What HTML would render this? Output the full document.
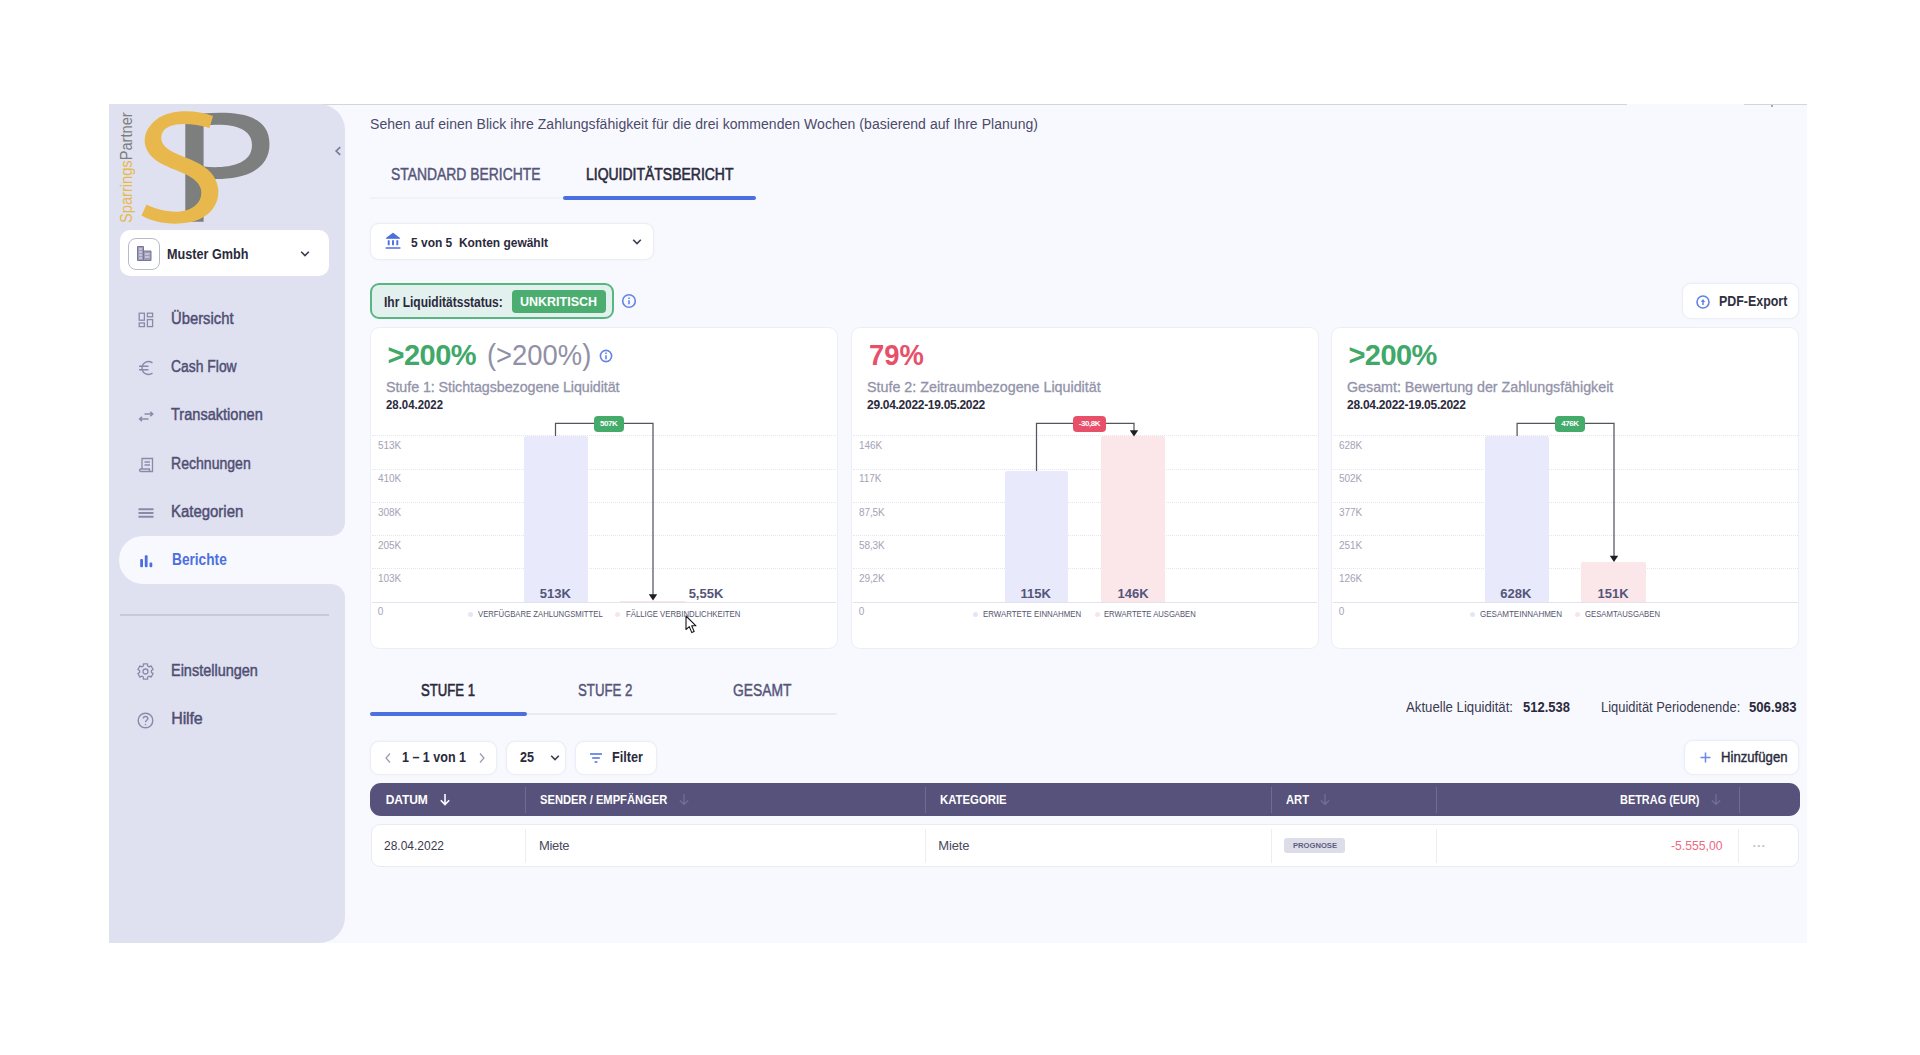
<!DOCTYPE html>
<html lang="de"><head><meta charset="utf-8"><title>Liquiditätsbericht</title>
<style>
html,body{margin:0;padding:0;background:#ffffff;}
body{width:1920px;height:1055px;position:relative;overflow:hidden;font-family:"Liberation Sans", sans-serif;}
.b{position:absolute;display:block;}
.t{position:absolute;white-space:nowrap;line-height:1;font-family:"Liberation Sans", sans-serif;}
</style></head>
<body>
<div class="b" style="left:109.00px;top:104.00px;width:1698.00px;height:838.50px;background:#f8f9fe;"></div>
<div class="b" style="left:109.00px;top:104.00px;width:1518.00px;height:1.00px;background:#d4d4da;"></div>
<div class="b" style="left:1744.00px;top:104.00px;width:63.00px;height:1.00px;background:#d4d4da;"></div>
<div class="b" style="left:1770.50px;top:105.00px;width:2.50px;height:2.00px;background:#8d8d98;border-radius:1px;"></div>
<div class="b" style="left:109.00px;top:104.00px;width:236.20px;height:432.25px;background:#dfe1f0;border-radius:0 26px 14px 0;"></div>
<div class="b" style="left:109.00px;top:530.00px;width:41.00px;height:60.00px;background:#dfe1f0;"></div>
<div class="b" style="left:109.00px;top:584.00px;width:236.20px;height:358.50px;background:#dfe1f0;border-radius:0 14px 26px 0;"></div>
<div class="b" style="left:118.75px;top:536.25px;width:241.25px;height:47.75px;background:#f8f9fe;border-radius:24px 0 0 24px;"></div>
<svg class="b" style="left:109px;top:104px" width="240" height="125" viewBox="109 104 240 125">
<path d="M185.3 122 L185.3 221.8 L203.6 221.8 L203.6 178.5 C232 181 269.5 176 269.5 144 C269.5 112 232 111.5 203 113.5 C196 114 190 116.5 185.3 122 Z M203.6 126 C222 123 252 124 252 145 C252 167 222 168.5 203.6 166.5 Z" fill="#7d7e7e" fill-rule="evenodd"/>
<path d="M213 116 C196 110 171 108.5 156.5 119.5 C139 133 140.5 154 164 165 C180 172.5 196 176 200.5 188 C204 199 196 210 180 211.5 C168 212.5 155 209 146.5 204.5 L141.5 215.5 C153 222.5 172 225.5 188.5 222.5 C208.5 219 220.5 205 218 187.5 C215.5 170 198.5 162.5 183 156.5 C168 150.5 158.5 144.5 162 133.5 C166 122.5 188 121.5 209.5 128 Z" fill="#e8b84c"/>
</svg>
<div class="b" style="left:118px;top:222.5px;transform-origin:0 0;transform:rotate(-90deg) scale(0.915,1);white-space:nowrap;font:400 18px/18px "Liberation Sans", sans-serif;"><span style="color:#e8b84c">Sparrings</span><span style="color:#7d7e7e">Partner</span></div>
<svg class="b" style="left:334px;top:146px" width="8" height="10" viewBox="0 0 8 10"><path d="M6.2 1.2 L2.2 5 L6.2 8.8" fill="none" stroke="#7a7a98" stroke-width="1.7"/></svg>
<div class="b" style="left:120.30px;top:230.00px;width:208.70px;height:46.00px;background:#ffffff;border-radius:10px;"></div>
<div class="b" style="left:127.80px;top:237.60px;width:32.50px;height:32.40px;background:#ffffff;border-radius:8px;border:1px solid #b9b9c9;box-sizing:border-box;"></div>
<svg class="b" style="left:136px;top:245px" width="17" height="17" viewBox="0 0 17 17">
<path d="M1.5 1.5 H7.5 V15.5 H1.5 Z M7.5 6 H15 V15.5 H7.5 Z" fill="#9c9cb6" stroke="#77779a" stroke-width="1"/>
<path d="M3 4h3M3 7h3M3 10h3M3 13h3M9 9h4.5M9 12h4.5" stroke="#e9e9f3" stroke-width="1"/></svg>
<svg class="b" style="left:299.5px;top:250px" width="10" height="8" viewBox="0 0 10 8"><path d="M1.2 1.8 L5 5.6 L8.8 1.8" fill="none" stroke="#3c3c50" stroke-width="1.6"/></svg>
<div class="b" style="left:120.40px;top:614.00px;width:209.00px;height:2.30px;background:#c6c8dc;"></div>
<svg class="b" style="left:137.5px;top:312px" width="16" height="16" viewBox="0 0 16 16" fill="none" stroke="#8a8aa8" stroke-width="1.3">
<rect x="1.2" y="1.2" width="5.2" height="7"/><rect x="9.4" y="1.2" width="5.2" height="3.6"/><rect x="1.2" y="11" width="5.2" height="3.6"/><rect x="9.4" y="7.6" width="5.2" height="7"/></svg>
<svg class="b" style="left:137.5px;top:360px" width="16" height="16" viewBox="0 0 16 16" fill="none" stroke="#8a8aa8" stroke-width="1.4">
<path d="M14.5 2.8 C9.5 -0.5 4 3 4 8 C4 13 9.5 16.5 14.5 13.2"/><path d="M1 6.3 H10.5 M1 9.7 H10.5"/></svg>
<svg class="b" style="left:137.5px;top:408px" width="16" height="16" viewBox="0 0 16 16" fill="none" stroke="#8a8aa8" stroke-width="1.5">
<path d="M6.5 6 H14.5 M12.3 3.8 L14.7 6 L12.3 8.2"/><path d="M10.5 11 H1.8 M4 8.8 L1.6 11 L4 13.2"/></svg>
<svg class="b" style="left:137.5px;top:457px" width="16" height="16" viewBox="0 0 16 16" fill="none" stroke="#8a8aa8" stroke-width="1.3">
<path d="M4 12 V1.5 H14.5 V14.5 H3 C1 14.5 1 12 3 12 H11.5 V14"/><path d="M6.5 5 H12 M6.5 8 H12"/></svg>
<svg class="b" style="left:137.5px;top:505px" width="16" height="16" viewBox="0 0 16 16" fill="none" stroke="#8a8aa8" stroke-width="2.1">
<path d="M0.5 4.3 H15.5 M0.5 8 H15.5 M0.5 11.7 H15.5"/></svg>
<svg class="b" style="left:137.5px;top:553px" width="16" height="16" viewBox="0 0 16 16" fill="#4c6fe0">
<rect x="2.2" y="6" width="2.8" height="8.2" rx="1"/><rect x="6.8" y="2.3" width="2.8" height="11.9" rx="1"/><rect x="11.5" y="9.5" width="2.8" height="4.7" rx="1"/></svg>
<svg class="b" style="left:137.2px;top:663.2px" width="17" height="17" viewBox="0 0 17 17" fill="none" stroke="#8a8aa8" stroke-width="1.3" stroke-linejoin="round">
<path d="M6.39 2.99 L6.46 0.87 L10.54 0.87 L10.61 2.99 L12.21 3.91 L14.09 2.91 L16.13 6.46 L14.33 7.58 L14.33 9.42 L16.13 10.54 L14.09 14.09 L12.21 13.09 L10.61 14.01 L10.54 16.13 L6.46 16.13 L6.39 14.01 L4.79 13.09 L2.91 14.09 L0.87 10.54 L2.67 9.42 L2.67 7.58 L0.87 6.46 L2.91 2.91 L4.79 3.91 Z"/><circle cx="8.5" cy="8.5" r="2.5"/></svg>
<svg class="b" style="left:137.3px;top:711.5px" width="17" height="17" viewBox="0 0 17 17" fill="none" stroke="#8a8aa8" stroke-width="1.4">
<circle cx="8.5" cy="8.5" r="7.3"/><path d="M6.3 6.6 C6.3 3.8 10.8 3.8 10.8 6.6 C10.8 8.3 8.5 8.3 8.5 10.3" /><path d="M8.5 12 V13.2"/></svg>
<div class="b" style="left:370.00px;top:196.50px;width:193.00px;height:2.00px;background:#f1f2f8;"></div>
<div class="b" style="left:563.00px;top:196.30px;width:193.00px;height:3.40px;background:#4c6fe0;border-radius:2px;"></div>
<div class="b" style="left:369.70px;top:222.95px;width:284.10px;height:36.60px;background:#ffffff;border-radius:9px;border:1px solid #eceef6;box-sizing:border-box;box-shadow:0 0 2px rgba(120,125,180,0.10);"></div>
<svg class="b" style="left:384.7px;top:232px" width="16" height="18" viewBox="0 0 16 18" fill="none" stroke="#4c6fe0" stroke-width="1.3">
<path d="M1.6 6.2 L8 1.4 L14.4 6.2 Z" stroke-linejoin="round" fill="#4c6fe0"/><path d="M3.7 8.3 V13.3 M8 8.3 V13.3 M12.3 8.3 V13.3" stroke-width="1.9"/><path d="M0.6 16 H15.4" stroke-width="1.5"/></svg>
<svg class="b" style="left:631.5px;top:237.5px" width="10" height="8" viewBox="0 0 10 8"><path d="M1.2 1.8 L5 5.6 L8.8 1.8" fill="none" stroke="#3c3c50" stroke-width="1.6"/></svg>
<div class="b" style="left:370.00px;top:283.30px;width:243.50px;height:35.90px;background:#e3f1ee;border-radius:9px;border:2px solid #58b781;box-sizing:border-box;"></div>
<div class="b" style="left:511.75px;top:289.50px;width:94.00px;height:23.50px;background:#4bae70;border-radius:4px;"></div>
<svg class="b" style="left:621.3px;top:293.4px" width="16" height="16" viewBox="0 0 16 16" fill="none" stroke="#6383e6" stroke-width="1.6">
<circle cx="8" cy="8" r="6.3"/><path d="M8 7.2 V11.2" stroke-width="1.6"/><path d="M8 4.5 V6" stroke-width="1.6"/></svg>
<div class="b" style="left:1681.90px;top:283.20px;width:117.20px;height:35.90px;background:#ffffff;border-radius:9px;border:1px solid #eceef6;box-sizing:border-box;box-shadow:0 0 2px rgba(120,125,180,0.10);"></div>
<svg class="b" style="left:1695px;top:294px" width="16" height="16" viewBox="0 0 16 16" fill="none" stroke="#6383e6" stroke-width="1.6">
<circle cx="8" cy="8" r="6"/><path d="M8 11 V6.4" stroke-width="1.5"/><path d="M5.8 8 L8 5 L10.2 8 Z" fill="#6383e6" stroke="none"/></svg>
<div class="b" style="left:370.00px;top:327.00px;width:467.80px;height:321.60px;background:#ffffff;border-radius:9px;border:1px solid #eceef5;box-sizing:border-box;"></div>
<svg class="b" style="left:597.75px;top:347.5px" width="16" height="16" viewBox="0 0 16 16" fill="none" stroke="#6383e6" stroke-width="1.6">
<circle cx="8" cy="8" r="5.6"/><path d="M8 7.2 V11.2" stroke-width="1.6"/><path d="M8 4.5 V6" stroke-width="1.6"/></svg>
<div class="b" style="left:371.5px;top:435.0px;width:464.5px;height:0;border-top:1px dotted #e4e5ee;"></div>
<div class="b" style="left:371.5px;top:468.5px;width:464.5px;height:0;border-top:1px dotted #e4e5ee;"></div>
<div class="b" style="left:371.5px;top:501.5px;width:464.5px;height:0;border-top:1px dotted #e4e5ee;"></div>
<div class="b" style="left:371.5px;top:535.0px;width:464.5px;height:0;border-top:1px dotted #e4e5ee;"></div>
<div class="b" style="left:371.5px;top:567.5px;width:464.5px;height:0;border-top:1px dotted #e4e5ee;"></div>
<div class="b" style="left:371.50px;top:601.50px;width:464.50px;height:1.00px;background:#e2e3ec;"></div>
<div class="b" style="left:523.75px;top:436.00px;width:63.75px;height:165.80px;background:#e8eafc;border-radius:2px 2px 0 0;"></div>
<div class="b" style="left:620.00px;top:601.00px;width:65.50px;height:0.80px;background:#fbe3e6;border-radius:2px 2px 0 0;"></div>
<svg class="b" style="left:370.5px;top:410px" width="466.5" height="200" viewBox="370.5 410 466.5 200"><path d="M555 436 V423.4 H652.5 V595.5" fill="none" stroke="#55555e" stroke-width="1.25"/><path d="M648.3 594.2 H656.7 L652.5 600.6 Z" fill="#1d1d22"/></svg>
<div class="b" style="left:593.75px;top:416.00px;width:30.00px;height:15.80px;background:#45ab6b;border-radius:4px;"></div>
<div class="b" style="left:467.50px;top:612.30px;width:5.00px;height:5.00px;background:#e4e6f8;border-radius:3px;"></div>
<div class="b" style="left:615.30px;top:612.30px;width:5.00px;height:5.00px;background:#fbe3e6;border-radius:3px;"></div>
<div class="b" style="left:851.00px;top:327.00px;width:467.80px;height:321.60px;background:#ffffff;border-radius:9px;border:1px solid #eceef5;box-sizing:border-box;"></div>
<div class="b" style="left:852.5px;top:435.0px;width:464.5px;height:0;border-top:1px dotted #e4e5ee;"></div>
<div class="b" style="left:852.5px;top:468.5px;width:464.5px;height:0;border-top:1px dotted #e4e5ee;"></div>
<div class="b" style="left:852.5px;top:501.5px;width:464.5px;height:0;border-top:1px dotted #e4e5ee;"></div>
<div class="b" style="left:852.5px;top:535.0px;width:464.5px;height:0;border-top:1px dotted #e4e5ee;"></div>
<div class="b" style="left:852.5px;top:567.5px;width:464.5px;height:0;border-top:1px dotted #e4e5ee;"></div>
<div class="b" style="left:852.50px;top:601.50px;width:464.50px;height:1.00px;background:#e2e3ec;"></div>
<div class="b" style="left:1004.60px;top:470.80px;width:63.80px;height:131.00px;background:#e8eafc;border-radius:2px 2px 0 0;"></div>
<div class="b" style="left:1101.00px;top:436.00px;width:64.00px;height:165.80px;background:#fbe7ea;border-radius:2px 2px 0 0;"></div>
<svg class="b" style="left:851.5px;top:410px" width="466.5" height="200" viewBox="851.5 410 466.5 200"><path d="M1036 471 V423.4 H1133.5 V431.5" fill="none" stroke="#55555e" stroke-width="1.25"/><path d="M1129.3 430.2 H1137.7 L1133.5 436.6 Z" fill="#1d1d22"/></svg>
<div class="b" style="left:1072.50px;top:416.00px;width:33.90px;height:15.80px;background:#e8506a;border-radius:4px;"></div>
<div class="b" style="left:972.50px;top:612.30px;width:5.00px;height:5.00px;background:#e4e6f8;border-radius:3px;"></div>
<div class="b" style="left:1094.80px;top:612.30px;width:5.00px;height:5.00px;background:#fbe3e6;border-radius:3px;"></div>
<div class="b" style="left:1331.00px;top:327.00px;width:468.30px;height:321.60px;background:#ffffff;border-radius:9px;border:1px solid #eceef5;box-sizing:border-box;"></div>
<div class="b" style="left:1332.5px;top:435.0px;width:465.0px;height:0;border-top:1px dotted #e4e5ee;"></div>
<div class="b" style="left:1332.5px;top:468.5px;width:465.0px;height:0;border-top:1px dotted #e4e5ee;"></div>
<div class="b" style="left:1332.5px;top:501.5px;width:465.0px;height:0;border-top:1px dotted #e4e5ee;"></div>
<div class="b" style="left:1332.5px;top:535.0px;width:465.0px;height:0;border-top:1px dotted #e4e5ee;"></div>
<div class="b" style="left:1332.5px;top:567.5px;width:465.0px;height:0;border-top:1px dotted #e4e5ee;"></div>
<div class="b" style="left:1332.50px;top:601.50px;width:465.00px;height:1.00px;background:#e2e3ec;"></div>
<div class="b" style="left:1484.60px;top:436.00px;width:64.00px;height:165.80px;background:#e8eafc;border-radius:2px 2px 0 0;"></div>
<div class="b" style="left:1581.00px;top:562.00px;width:64.50px;height:39.80px;background:#fbe7ea;border-radius:2px 2px 0 0;"></div>
<svg class="b" style="left:1331.5px;top:410px" width="467.0" height="200" viewBox="1331.5 410 467.0 200"><path d="M1516.6 436 V423.4 H1613.5 V557.0" fill="none" stroke="#55555e" stroke-width="1.25"/><path d="M1609.3 555.7 H1617.7 L1613.5 562.1 Z" fill="#1d1d22"/></svg>
<div class="b" style="left:1555.00px;top:416.00px;width:29.80px;height:15.80px;background:#45ab6b;border-radius:4px;"></div>
<div class="b" style="left:1469.80px;top:612.30px;width:5.00px;height:5.00px;background:#e4e6f8;border-radius:3px;"></div>
<div class="b" style="left:1574.80px;top:612.30px;width:5.00px;height:5.00px;background:#fbe3e6;border-radius:3px;"></div>
<svg class="b" style="left:684.5px;top:615px" width="14" height="20" viewBox="0 0 14 20"><path d="M1 1 V14.5 L4.3 11.6 L6.8 17.6 L9.2 16.6 L6.7 10.8 H11 Z" fill="#ffffff" stroke="#16161c" stroke-width="1.1" stroke-linejoin="round"/></svg>
<div class="b" style="left:526.00px;top:713.00px;width:311.00px;height:2.20px;background:#e9eaf2;border-radius:1px;"></div>
<div class="b" style="left:370.00px;top:712.30px;width:156.70px;height:3.40px;background:#4c6fe0;border-radius:2px;"></div>
<div class="b" style="left:370.20px;top:740.70px;width:127.30px;height:34.60px;background:#ffffff;border-radius:9px;border:1px solid #eceef6;box-sizing:border-box;box-shadow:0 0 2px rgba(120,125,180,0.10);"></div>
<svg class="b" style="left:384px;top:752px" width="8" height="12" viewBox="0 0 8 12"><path d="M6 1.5 L2 6 L6 10.5" fill="none" stroke="#9a9ab0" stroke-width="1.2"/></svg>
<svg class="b" style="left:477.5px;top:752px" width="8" height="12" viewBox="0 0 8 12"><path d="M2 1.5 L6 6 L2 10.5" fill="none" stroke="#9a9ab0" stroke-width="1.2"/></svg>
<div class="b" style="left:505.90px;top:740.70px;width:60.60px;height:34.60px;background:#ffffff;border-radius:9px;border:1px solid #eceef6;box-sizing:border-box;box-shadow:0 0 2px rgba(120,125,180,0.10);"></div>
<svg class="b" style="left:550px;top:754px" width="10" height="8" viewBox="0 0 10 8"><path d="M1.2 1.8 L5 5.6 L8.8 1.8" fill="none" stroke="#3c3c50" stroke-width="1.6"/></svg>
<div class="b" style="left:575.20px;top:740.70px;width:81.60px;height:34.60px;background:#ffffff;border-radius:9px;border:1px solid #eceef6;box-sizing:border-box;box-shadow:0 0 2px rgba(120,125,180,0.10);"></div>
<svg class="b" style="left:588.5px;top:751.5px" width="14" height="12" viewBox="0 0 14 12"><path d="M1 2 H13 M3.2 6 H10.8 M5.6 10 H8.4" fill="none" stroke="#4c6fe0" stroke-width="1.5"/></svg>
<div class="b" style="left:1684.20px;top:740.20px;width:114.60px;height:35.10px;background:#ffffff;border-radius:9px;border:1px solid #eceef6;box-sizing:border-box;box-shadow:0 0 2px rgba(120,125,180,0.10);"></div>
<svg class="b" style="left:1699.5px;top:752.3px" width="11" height="11" viewBox="0 0 11 11"><path d="M5.5 0.5 V10.5 M0.5 5.5 H10.5" fill="none" stroke="#6a88e8" stroke-width="1.5"/></svg>
<div class="b" style="left:370.00px;top:783.00px;width:1429.50px;height:32.70px;background:#56527c;border-radius:11px;"></div>
<div class="b" style="left:524.50px;top:787.00px;width:1.00px;height:25.50px;background:#6f6b92;"></div>
<div class="b" style="left:925.20px;top:787.00px;width:1.00px;height:25.50px;background:#6f6b92;"></div>
<div class="b" style="left:1270.50px;top:787.00px;width:1.00px;height:25.50px;background:#6f6b92;"></div>
<div class="b" style="left:1436.20px;top:787.00px;width:1.00px;height:25.50px;background:#6f6b92;"></div>
<div class="b" style="left:1738.75px;top:787.00px;width:1.00px;height:25.50px;background:#6f6b92;"></div>
<svg class="b" style="left:439px;top:792.6px" width="12" height="13" viewBox="0 0 12 13"><path d="M6 1 V11.3 M1.8 7.3 L6 11.5 L10.2 7.3" fill="none" stroke="#ffffff" stroke-width="1.6"/></svg>
<svg class="b" style="left:678px;top:792.6px" width="12" height="13" viewBox="0 0 12 13"><path d="M6 1 V11.3 M1.8 7.3 L6 11.5 L10.2 7.3" fill="none" stroke="#75719a" stroke-width="1.2"/></svg>
<svg class="b" style="left:1319px;top:792.6px" width="12" height="13" viewBox="0 0 12 13"><path d="M6 1 V11.3 M1.8 7.3 L6 11.5 L10.2 7.3" fill="none" stroke="#75719a" stroke-width="1.2"/></svg>
<svg class="b" style="left:1709.75px;top:792.6px" width="12" height="13" viewBox="0 0 12 13"><path d="M6 1 V11.3 M1.8 7.3 L6 11.5 L10.2 7.3" fill="none" stroke="#75719a" stroke-width="1.2"/></svg>
<div class="b" style="left:370.50px;top:824.30px;width:1428.50px;height:42.40px;background:#ffffff;border-radius:9px;border:1px solid #e9ebf3;box-sizing:border-box;"></div>
<div class="b" style="left:524.50px;top:828.50px;width:1.00px;height:34.00px;background:#ecedf4;"></div>
<div class="b" style="left:925.20px;top:828.50px;width:1.00px;height:34.00px;background:#ecedf4;"></div>
<div class="b" style="left:1270.50px;top:828.50px;width:1.00px;height:34.00px;background:#ecedf4;"></div>
<div class="b" style="left:1436.20px;top:828.50px;width:1.00px;height:34.00px;background:#ecedf4;"></div>
<div class="b" style="left:1737.50px;top:828.50px;width:1.00px;height:34.00px;background:#ecedf4;"></div>
<div class="b" style="left:1284.00px;top:837.70px;width:61.00px;height:15.60px;background:#dcdde9;border-radius:3px;"></div>
<span class="t" id="t0" style="top:246.75px;font-size:14px;font-weight:700;color:#2b2a3d;left:167.00px;transform-origin:0 50%;transform:scaleX(0.9021);">Muster Gmbh</span>
<span class="t" id="t1" style="top:311.01px;font-size:16px;font-weight:400;color:#4f4e73;left:171.25px;-webkit-text-stroke:0.45px #4f4e73;transform-origin:0 50%;transform:scaleX(0.9249);">Übersicht</span>
<span class="t" id="t2" style="top:359.16px;font-size:16px;font-weight:400;color:#4f4e73;left:171.25px;-webkit-text-stroke:0.45px #4f4e73;transform-origin:0 50%;transform:scaleX(0.8686);">Cash Flow</span>
<span class="t" id="t3" style="top:407.31px;font-size:16px;font-weight:400;color:#4f4e73;left:171.25px;-webkit-text-stroke:0.45px #4f4e73;transform-origin:0 50%;transform:scaleX(0.9102);">Transaktionen</span>
<span class="t" id="t4" style="top:456.26px;font-size:16px;font-weight:400;color:#4f4e73;left:171.25px;-webkit-text-stroke:0.45px #4f4e73;transform-origin:0 50%;transform:scaleX(0.8788);">Rechnungen</span>
<span class="t" id="t5" style="top:504.16px;font-size:16px;font-weight:400;color:#4f4e73;left:171.25px;-webkit-text-stroke:0.45px #4f4e73;transform-origin:0 50%;transform:scaleX(0.9336);">Kategorien</span>
<span class="t" id="t6" style="top:552.06px;font-size:16px;font-weight:700;color:#4c6fe0;left:171.50px;transform-origin:0 50%;transform:scaleX(0.8551);">Berichte</span>
<span class="t" id="t7" style="top:663.46px;font-size:16px;font-weight:400;color:#4f4e73;left:171.25px;-webkit-text-stroke:0.45px #4f4e73;transform-origin:0 50%;transform:scaleX(0.9040);">Einstellungen</span>
<span class="t" id="t8" style="top:711.36px;font-size:16px;font-weight:400;color:#4f4e73;left:171.25px;letter-spacing:-0.153px;-webkit-text-stroke:0.45px #4f4e73;">Hilfe</span>
<span class="t" id="t9" style="top:117.40px;font-size:14px;font-weight:400;color:#4b4a6a;left:370.00px;letter-spacing:0.043px;">Sehen auf einen Blick ihre Zahlungsfähigkeit für die drei kommenden Wochen (basierend auf Ihre Planung)</span>
<span class="t" id="t10" style="top:166.43px;font-size:16.5px;font-weight:400;color:#55557a;left:391.00px;-webkit-text-stroke:0.45px #55557a;transform-origin:0 50%;transform:scaleX(0.8420);">STANDARD BERICHTE</span>
<span class="t" id="t11" style="top:166.43px;font-size:16.5px;font-weight:400;color:#2b2a3d;left:585.50px;-webkit-text-stroke:0.6px #2b2a3d;transform-origin:0 50%;transform:scaleX(0.8468);">LIQUIDITÄTSBERICHT</span>
<span class="t" id="t12" style="top:235.77px;font-size:13.5px;font-weight:700;color:#2b2a3d;left:411.00px;white-space:pre;transform-origin:0 50%;transform:scaleX(0.8866);">5 von 5  Konten gewählt</span>
<span class="t" id="t13" style="top:294.65px;font-size:14px;font-weight:700;color:#2b2a3d;left:383.75px;transform-origin:0 50%;transform:scaleX(0.8577);">Ihr Liquiditätsstatus:</span>
<span class="t" id="t14" style="top:294.93px;font-size:13.2px;font-weight:700;color:#ffffff;left:520.00px;transform-origin:0 50%;transform:scaleX(0.9468);">UNKRITISCH</span>
<span class="t" id="t15" style="top:294.35px;font-size:14px;font-weight:700;color:#302f42;left:1719.00px;transform-origin:0 50%;transform:scaleX(0.8870);">PDF-Export</span>
<span class="t" id="t16" style="top:341.45px;font-size:29px;font-weight:700;color:#40a868;left:387.50px;letter-spacing:-0.522px;">&gt;200%</span>
<span class="t" id="t17" style="top:341.45px;font-size:29px;font-weight:400;color:#9090a6;left:486.75px;transform-origin:0 50%;transform:scaleX(0.9441);">(&gt;200%)</span>
<span class="t" id="t18" style="top:379.50px;font-size:14.3px;font-weight:400;color:#9393aa;left:386.00px;letter-spacing:-0.070px;-webkit-text-stroke:0.3px #9393aa;">Stufe 1: Stichtagsbezogene Liquidität</span>
<span class="t" id="t19" style="top:399.34px;font-size:12px;font-weight:700;color:#2b2a3d;left:386.00px;transform-origin:0 50%;transform:scaleX(0.9490);">28.04.2022</span>
<span class="t" id="t20" style="top:440.84px;font-size:10px;font-weight:400;color:#a3a3b6;left:378.00px;letter-spacing:-0.1px;">513K</span>
<span class="t" id="t21" style="top:473.84px;font-size:10px;font-weight:400;color:#a3a3b6;left:378.00px;letter-spacing:-0.1px;">410K</span>
<span class="t" id="t22" style="top:507.83px;font-size:10px;font-weight:400;color:#a3a3b6;left:378.00px;letter-spacing:-0.1px;">308K</span>
<span class="t" id="t23" style="top:540.83px;font-size:10px;font-weight:400;color:#a3a3b6;left:378.00px;letter-spacing:-0.1px;">205K</span>
<span class="t" id="t24" style="top:573.83px;font-size:10px;font-weight:400;color:#a3a3b6;left:378.00px;letter-spacing:-0.1px;">103K</span>
<span class="t" id="t25" style="top:606.93px;font-size:10px;font-weight:400;color:#a3a3b6;left:377.70px;">0</span>
<span class="t" id="t26" style="top:420.23px;font-size:8px;font-weight:700;color:#ffffff;left:599.98px;letter-spacing:-0.4px;">507K</span>
<span class="t" id="t27" style="top:587.00px;font-size:13px;font-weight:700;color:#55557a;left:539.76px;">513K</span>
<span class="t" id="t28" style="top:587.00px;font-size:13px;font-weight:700;color:#55557a;left:688.65px;">5,55K</span>
<span class="t" id="t29" style="top:610.28px;font-size:9px;font-weight:400;color:#55556e;left:478.00px;transform-origin:0 50%;transform:scaleX(0.8569);">VERFÜGBARE ZAHLUNGSMITTEL</span>
<span class="t" id="t30" style="top:610.28px;font-size:9px;font-weight:400;color:#55556e;left:625.60px;transform-origin:0 50%;transform:scaleX(0.8631);">FÄLLIGE VERBINDLICHKEITEN</span>
<span class="t" id="t31" style="top:341.45px;font-size:29px;font-weight:700;color:#e8506a;left:868.50px;transform-origin:0 50%;transform:scaleX(0.9441);">79%</span>
<span class="t" id="t32" style="top:379.50px;font-size:14.3px;font-weight:400;color:#9393aa;left:867.00px;letter-spacing:0.001px;-webkit-text-stroke:0.3px #9393aa;">Stufe 2: Zeitraumbezogene Liquidität</span>
<span class="t" id="t33" style="top:399.34px;font-size:12px;font-weight:700;color:#2b2a3d;left:867.00px;letter-spacing:-0.292px;">29.04.2022-19.05.2022</span>
<span class="t" id="t34" style="top:440.84px;font-size:10px;font-weight:400;color:#a3a3b6;left:859.00px;letter-spacing:-0.1px;">146K</span>
<span class="t" id="t35" style="top:473.84px;font-size:10px;font-weight:400;color:#a3a3b6;left:859.00px;letter-spacing:-0.1px;">117K</span>
<span class="t" id="t36" style="top:507.83px;font-size:10px;font-weight:400;color:#a3a3b6;left:859.00px;letter-spacing:-0.1px;">87,5K</span>
<span class="t" id="t37" style="top:540.83px;font-size:10px;font-weight:400;color:#a3a3b6;left:859.00px;letter-spacing:-0.1px;">58,3K</span>
<span class="t" id="t38" style="top:573.83px;font-size:10px;font-weight:400;color:#a3a3b6;left:859.00px;letter-spacing:-0.1px;">29,2K</span>
<span class="t" id="t39" style="top:606.93px;font-size:10px;font-weight:400;color:#a3a3b6;left:858.70px;">0</span>
<span class="t" id="t40" style="top:420.23px;font-size:8px;font-weight:700;color:#ffffff;left:1078.64px;letter-spacing:-0.4px;">-30,8K</span>
<span class="t" id="t41" style="top:587.00px;font-size:13px;font-weight:700;color:#55557a;left:1020.61px;">115K</span>
<span class="t" id="t42" style="top:587.00px;font-size:13px;font-weight:700;color:#55557a;left:1117.46px;">146K</span>
<span class="t" id="t43" style="top:610.28px;font-size:9px;font-weight:400;color:#55556e;left:982.70px;transform-origin:0 50%;transform:scaleX(0.8740);">ERWARTETE EINNAHMEN</span>
<span class="t" id="t44" style="top:610.28px;font-size:9px;font-weight:400;color:#55556e;left:1104.30px;transform-origin:0 50%;transform:scaleX(0.8502);">ERWARTETE AUSGABEN</span>
<span class="t" id="t45" style="top:341.45px;font-size:29px;font-weight:700;color:#40a868;left:1348.50px;letter-spacing:-0.582px;">&gt;200%</span>
<span class="t" id="t46" style="top:379.50px;font-size:14.3px;font-weight:400;color:#9393aa;left:1347.00px;letter-spacing:-0.019px;-webkit-text-stroke:0.3px #9393aa;">Gesamt: Bewertung der Zahlungsfähigkeit</span>
<span class="t" id="t47" style="top:399.34px;font-size:12px;font-weight:700;color:#2b2a3d;left:1347.00px;letter-spacing:-0.258px;">28.04.2022-19.05.2022</span>
<span class="t" id="t48" style="top:440.84px;font-size:10px;font-weight:400;color:#a3a3b6;left:1339.00px;letter-spacing:-0.1px;">628K</span>
<span class="t" id="t49" style="top:473.84px;font-size:10px;font-weight:400;color:#a3a3b6;left:1339.00px;letter-spacing:-0.1px;">502K</span>
<span class="t" id="t50" style="top:507.83px;font-size:10px;font-weight:400;color:#a3a3b6;left:1339.00px;letter-spacing:-0.1px;">377K</span>
<span class="t" id="t51" style="top:540.83px;font-size:10px;font-weight:400;color:#a3a3b6;left:1339.00px;letter-spacing:-0.1px;">251K</span>
<span class="t" id="t52" style="top:573.83px;font-size:10px;font-weight:400;color:#a3a3b6;left:1339.00px;letter-spacing:-0.1px;">126K</span>
<span class="t" id="t53" style="top:606.93px;font-size:10px;font-weight:400;color:#a3a3b6;left:1338.70px;">0</span>
<span class="t" id="t54" style="top:420.23px;font-size:8px;font-weight:700;color:#ffffff;left:1561.13px;letter-spacing:-0.4px;">476K</span>
<span class="t" id="t55" style="top:587.00px;font-size:13px;font-weight:700;color:#55557a;left:1500.26px;">628K</span>
<span class="t" id="t56" style="top:587.00px;font-size:13px;font-weight:700;color:#55557a;left:1597.46px;">151K</span>
<span class="t" id="t57" style="top:610.28px;font-size:9px;font-weight:400;color:#55556e;left:1480.00px;transform-origin:0 50%;transform:scaleX(0.8912);">GESAMTEINNAHMEN</span>
<span class="t" id="t58" style="top:610.28px;font-size:9px;font-weight:400;color:#55556e;left:1584.80px;transform-origin:0 50%;transform:scaleX(0.8585);">GESAMTAUSGABEN</span>
<span class="t" id="t59" style="top:682.66px;font-size:16px;font-weight:400;color:#2b2a3d;left:421.00px;-webkit-text-stroke:0.6px #2b2a3d;transform-origin:0 50%;transform:scaleX(0.8207);">STUFE 1</span>
<span class="t" id="t60" style="top:682.66px;font-size:16px;font-weight:400;color:#55557a;left:578.30px;-webkit-text-stroke:0.45px #55557a;transform-origin:0 50%;transform:scaleX(0.8268);">STUFE 2</span>
<span class="t" id="t61" style="top:682.66px;font-size:16px;font-weight:400;color:#55557a;left:733.30px;-webkit-text-stroke:0.45px #55557a;transform-origin:0 50%;transform:scaleX(0.8644);">GESAMT</span>
<span class="t" id="t62" style="top:699.95px;font-size:14px;font-weight:400;color:#3a3a50;left:1406.00px;transform-origin:0 50%;transform:scaleX(0.9416);">Aktuelle Liquidität:</span>
<span class="t" id="t63" style="top:699.95px;font-size:14px;font-weight:700;color:#2b2a3d;left:1522.50px;transform-origin:0 50%;transform:scaleX(0.9287);">512.538</span>
<span class="t" id="t64" style="top:699.95px;font-size:14px;font-weight:400;color:#3a3a50;left:1600.75px;transform-origin:0 50%;transform:scaleX(0.9221);">Liquidität Periodenende:</span>
<span class="t" id="t65" style="top:699.95px;font-size:14px;font-weight:700;color:#2b2a3d;left:1748.75px;transform-origin:0 50%;transform:scaleX(0.9386);">506.983</span>
<span class="t" id="t66" style="top:750.45px;font-size:14px;font-weight:700;color:#2b2a3d;left:401.70px;transform-origin:0 50%;transform:scaleX(0.8939);">1 – 1 von 1</span>
<span class="t" id="t67" style="top:750.45px;font-size:14px;font-weight:700;color:#2b2a3d;left:520.00px;transform-origin:0 50%;transform:scaleX(0.8987);">25</span>
<span class="t" id="t68" style="top:750.45px;font-size:14px;font-weight:700;color:#2b2a3d;left:611.70px;transform-origin:0 50%;transform:scaleX(0.9055);">Filter</span>
<span class="t" id="t69" style="top:750.45px;font-size:14px;font-weight:400;color:#2b2a3d;left:1721.00px;-webkit-text-stroke:0.4px #2b2a3d;transform-origin:0 50%;transform:scaleX(0.9389);">Hinzufügen</span>
<span class="t" id="t70" style="top:793.84px;font-size:12px;font-weight:700;color:#ffffff;left:385.70px;letter-spacing:-0.087px;">DATUM</span>
<span class="t" id="t71" style="top:793.84px;font-size:12px;font-weight:700;color:#ffffff;left:540.00px;transform-origin:0 50%;transform:scaleX(0.9313);">SENDER / EMPFÄNGER</span>
<span class="t" id="t72" style="top:793.84px;font-size:12px;font-weight:700;color:#ffffff;left:940.00px;transform-origin:0 50%;transform:scaleX(0.9467);">KATEGORIE</span>
<span class="t" id="t73" style="top:793.84px;font-size:12px;font-weight:700;color:#ffffff;left:1286.00px;transform-origin:0 50%;transform:scaleX(0.9322);">ART</span>
<span class="t" id="t74" style="top:793.84px;font-size:12px;font-weight:700;color:#ffffff;left:1620.00px;transform-origin:0 50%;transform:scaleX(0.9104);">BETRAG (EUR)</span>
<span class="t" id="t75" style="top:839.20px;font-size:13px;font-weight:400;color:#3a3a4c;left:384.00px;transform-origin:0 50%;transform:scaleX(0.9220);">28.04.2022</span>
<span class="t" id="t76" style="top:839.20px;font-size:13px;font-weight:400;color:#4a4a5e;left:539.00px;letter-spacing:-0.299px;">Miete</span>
<span class="t" id="t77" style="top:839.20px;font-size:13px;font-weight:400;color:#4a4a5e;left:938.30px;letter-spacing:-0.159px;">Miete</span>
<span class="t" id="t78" style="top:842.07px;font-size:7px;font-weight:700;color:#5d5d80;left:1292.50px;transform-origin:0 50%;transform:scaleX(1.0877);">PROGNOSE</span>
<span class="t" id="t79" style="top:839.20px;font-size:13px;font-weight:400;color:#ea6a82;left:1671.00px;transform-origin:0 50%;transform:scaleX(0.9374);">-5.555,00</span>
<span class="t" id="t80" style="top:838.50px;font-size:13px;font-weight:700;color:#c3c4d4;left:1752.50px;letter-spacing:0.167px;">···</span>
</body></html>
